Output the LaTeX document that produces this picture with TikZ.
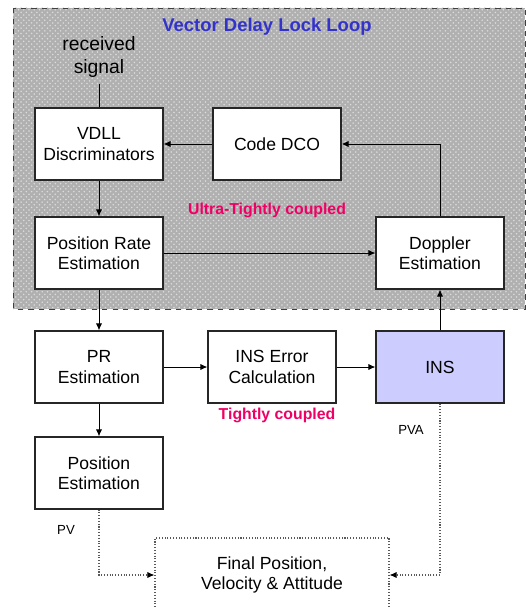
\documentclass[tikz,border=0pt]{standalone}
\usepackage{fontspec}
\setmainfont{Liberation Sans}
\usetikzlibrary{arrows.meta,patterns}
\definecolor{loopgray}{RGB}{176,176,176}
\definecolor{titleblue}{RGB}{51,51,204}
\definecolor{coupledpink}{RGB}{240,0,100}
\definecolor{insfill}{RGB}{204,204,255}
\begin{document}
\begin{tikzpicture}[
  x=0.02cm, y=-0.02cm,
  blk/.style={draw=black!85, line width=0.7pt, fill=white, minimum width=2.56cm,
    minimum height=1.44cm, align=center, font=\fontsize{10}{11.5}\selectfont},
  flow/.style={line width=0.5pt, -{Latex[length=4pt,width=3.5pt]}},
  soft/.style={draw=black!65, densely dotted, line width=0.6pt},
  coupled/.style={text=coupledpink, font=\bfseries\fontsize{9}{11}\selectfont},
  small/.style={font=\fontsize{7.5}{9}\selectfont}
]
\useasboundingbox (0,0) rectangle (526,608);

% vector delay lock loop region
\fill [loopgray] (13,8) rectangle (525,309);
\fill [pattern=crosshatch dots, pattern color=white!55!loopgray] (13,8) rectangle (525,309);
\draw [black!75, dashed, line width=0.5pt] (13,8) rectangle (525,309);
\node [text=titleblue, font=\bfseries\fontsize{10.5}{12}\selectfont] (title) at (267,27) {Vector Delay Lock Loop};

\node [align=center, font=\fontsize{11}{13}\selectfont] (rx) at (99,57) {received\\signal};

\node [blk] (vdll) at (99,144) {VDLL\\Discriminators};
\node [blk] (dco) at (277,144) {Code DCO};
\node [blk] (pre) at (99,253) {Position Rate\\Estimation};
\node [blk] (dop) at (440,253) {Doppler\\Estimation};
\node [coupled] (utc) at (267,210) {Ultra-Tightly coupled};

\node [blk] (pr) at (99,367) {PR\\Estimation};
\node [blk] (inserr) at (272,367) {INS Error\\Calculation};
\node [blk, fill=insfill] (ins) at (440,367) {INS};
\node [coupled] (tc) at (277,415) {Tightly coupled};
\node [small] (pva) at (411,430) {PVA};

\node [blk] (pos) at (99,473) {Position\\Estimation};
\node [small] (pv) at (66,530) {PV};
\node [soft, minimum width=4.68cm, minimum height=1.48cm, align=center,
  font=\fontsize{10}{11.5}\selectfont] (fin) at (272,575) {Final Position,\\ Velocity \& Attitude};

\draw [line width=0.5pt] (rx) -- (vdll);
\draw [flow] (dco) -- (vdll);
\draw [flow] (vdll) -- (pre);
\draw [flow] (pre) -- (dop);
\draw [flow] (dop.north) |- (dco.east);
\draw [flow] (pre) -- (pr);
\draw [flow] (pr) -- (inserr);
\draw [flow] (inserr) -- (ins);
\draw [flow] (ins) -- (dop);
\draw [flow] (pr) -- (pos);
\draw [soft, -{Latex[length=4pt,width=3.5pt,black]}] (pos.south) |- (fin.west);
\draw [soft, -{Latex[length=4pt,width=3.5pt,black]}] (ins.south) |- (fin.east);
\end{tikzpicture}
\end{document}
